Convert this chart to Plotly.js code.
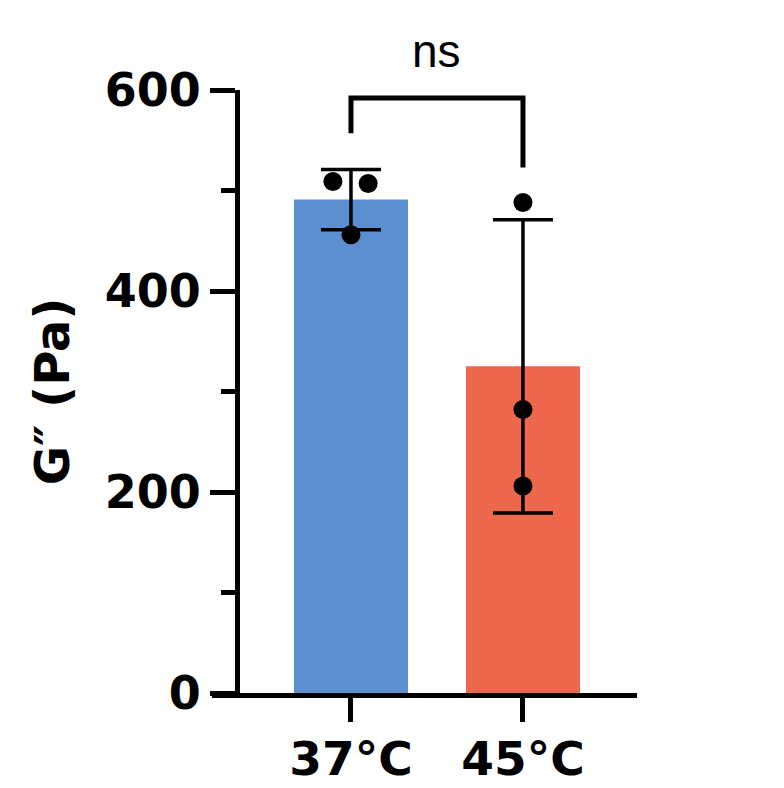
<!DOCTYPE html>
<html>
<head>
<meta charset="utf-8">
<script src="https://cdn.plot.ly/plotly-3.0.1.min.js"></script>
<style>
  html, body { margin: 0; padding: 0; background: #fff; }
  #chart { width: 784px; height: 788px; }
</style>
</head>
<body>
<div id="chart"></div>
<script>
// Data
const categories = ['37°C', '45°C'];
const means = [491, 325];
const sds = [30, 146];
const replicates37 = [509, 507, 456];
const replicates45 = [488, 282, 206];
const barColors = ['#5B8FCF', '#EC674B'];

// significance bracket (left foot, top, right foot) and label
const bracketY = [557, 592, 592, 523];
const sigLabel = 'ns';

const yTicks = [0, 200, 400, 600];

// horizontal spread of the dots inside a bar
const jitter37 = [-0.105, 0.1, 0];
const jitter45 = [0, 0, 0];

const xIdx = categories.map((_, i) => i);

const tickFont = { family: 'DejaVu Sans', size: 46, weight: 'bold', color: 'black' };

const barTrace = {
    type: 'bar',
    x: xIdx,
    y: means,
    width: 0.663,
    marker: { color: barColors, line: { width: 0 } },
    error_y: {
        type: 'data',
        array: sds,
        visible: true,
        color: 'black',
        thickness: 3.5,
        width: 30
    },
    hoverinfo: 'skip',
    showlegend: false
};

function dotTrace(i, vals, jitter) {
    return {
        type: 'scatter',
        mode: 'markers',
        x: vals.map((_, k) => i + jitter[k]),
        y: vals,
        marker: { color: 'black', size: 19 },
        cliponaxis: false,
        hoverinfo: 'skip',
        showlegend: false
    };
}

const bracketTrace = {
    type: 'scatter',
    mode: 'lines',
    x: [0, 0, 1, 1],
    y: bracketY,
    line: { color: 'black', width: 5 },
    cliponaxis: false,
    hoverinfo: 'skip',
    showlegend: false
};

const layout = {
    width: 784,
    height: 788,
    margin: { l: 212, r: 147, t: 90, b: 95 },
    paper_bgcolor: 'white',
    plot_bgcolor: 'white',
    showlegend: false,
    xaxis: {
        range: [-0.808, 1.663],
        tickvals: xIdx,
        ticktext: categories,
        showgrid: false,
        zeroline: false,
        showline: true,
        linecolor: 'black',
        linewidth: 5,
        ticks: 'outside',
        ticklen: 24,
        tickwidth: 5,
        tickcolor: 'black',
        ticklabelstandoff: -3,
        tickfont: { family: 'DejaVu Sans', size: 47, weight: 'bold', color: 'black' },
        fixedrange: true
    },
    yaxis: {
        range: [0, 600],
        anchor: 'free',
        position: 0.0588,
        tickvals: yTicks,
        showgrid: false,
        zeroline: false,
        showline: true,
        linecolor: 'black',
        linewidth: 5,
        ticks: 'outside',
        ticklen: 25,
        tickwidth: 5,
        tickcolor: 'black',
        tickfont: tickFont,
        minor: {
            dtick: 100,
            ticks: 'outside',
            ticklen: 14,
            tickwidth: 5,
            tickcolor: 'black',
            showgrid: false
        },
        title: {
            text: 'G″ (Pa)',
            font: { family: 'DejaVu Sans', size: 48, weight: 'bold', color: 'black' },
            standoff: 18
        },
        fixedrange: true
    },
    annotations: [{
        x: 0.5,
        y: 1.064,
        xref: 'x',
        yref: 'paper',
        text: sigLabel,
        showarrow: false,
        xanchor: 'center',
        yanchor: 'middle',
        font: { family: 'Liberation Sans', size: 46, color: 'black' }
    }]
};

Plotly.newPlot('chart', [
    barTrace,
    dotTrace(0, replicates37, jitter37),
    dotTrace(1, replicates45, jitter45),
    bracketTrace
], layout, { displayModeBar: false, staticPlot: true });
</script>
</body>
</html>
